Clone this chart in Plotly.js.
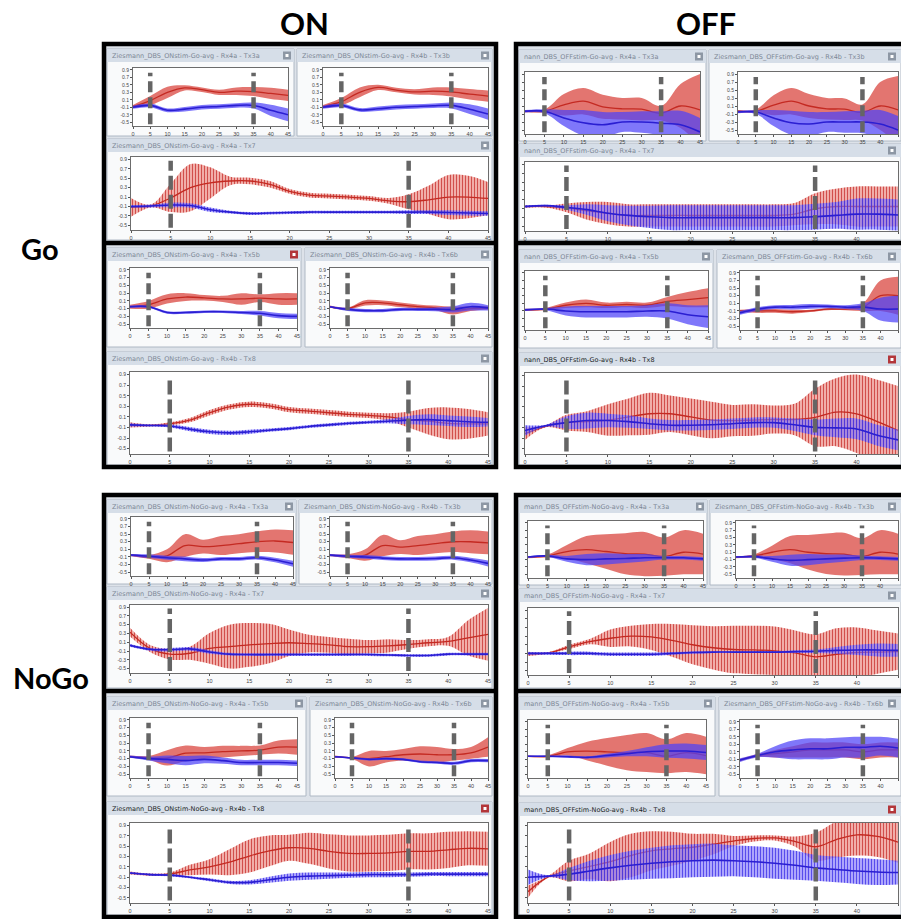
<!DOCTYPE html>
<html><head><meta charset="utf-8">
<script src="https://cdn.plot.ly/plotly-3.0.1.min.js"></script>
<style>html,body{margin:0;padding:0;background:#fff;}#chart{width:901px;height:919px;}</style>
</head><body><div id="chart"></div>
<script>
// ---------- DATA ----------
const xSmall = [0,5,10,15,20,25,30,35,40,45];
const xWide = [0,2.5,5,7.5,10,12.5,15,17.5,20,22.5,25,27.5,30,32.5,35,37.5,40,42.5,45];
const cueTimes = [5, 35];
const xTickVals = [0,5,10,15,20,25,30,35,40,45];
const xTickText = ['0','5','10','15','20','25','30','35','40','45'];
const yTickVals = [-0.5,-0.3,-0.1,0.1,0.3,0.5,0.7,0.9];
const yTickText = ['-0.5','-0.3','-0.1','0.1','0.3','0.5','0.7','0.9'];
const columnLabels = ['ON','OFF'];
const rowLabels = ['Go','NoGo'];

// Go / ON
const goOnTx3aRedMean = [-0.08,0.08,0.3,0.42,0.37,0.3,0.33,0.32,0.27,0.22];
const goOnTx3aRedSd = [0.04,0.12,0.15,0.07,0.06,0.07,0.1,0.12,0.15,0.15];
const goOnTx3aBlueMean = [-0.1,-0.05,-0.18,-0.15,-0.1,-0.08,-0.05,-0.05,-0.18,-0.3];
const goOnTx3aBlueSd = [0.04,0.05,0.05,0.06,0.06,0.06,0.06,0.08,0.15,0.17];
const goOnTx3bRedMean = [-0.08,0.05,0.3,0.43,0.36,0.31,0.33,0.31,0.25,0.2];
const goOnTx3bRedSd = [0.04,0.1,0.13,0.07,0.06,0.07,0.1,0.12,0.14,0.15];
const goOnTx3bBlueMean = [-0.1,-0.05,-0.17,-0.14,-0.1,-0.08,-0.06,-0.05,-0.15,-0.28];
const goOnTx3bBlueSd = [0.04,0.05,0.05,0.06,0.06,0.06,0.06,0.08,0.13,0.15];
const goOnTx7RedMean = [-0.12,-0.09,0.08,0.3,0.4,0.44,0.44,0.37,0.22,0.14,0.12,0.1,0.07,0.02,0.0,0.04,0.1,0.1,0.07];
const goOnTx7RedSd = [0.2,0.03,0.3,0.5,0.33,0.09,0.07,0.07,0.05,0.05,0.05,0.05,0.05,0.06,0.16,0.3,0.47,0.45,0.35];
const goOnTx7BlueMean = [-0.1,-0.09,-0.07,-0.08,-0.17,-0.22,-0.25,-0.24,-0.23,-0.22,-0.22,-0.22,-0.22,-0.22,-0.22,-0.22,-0.23,-0.24,-0.25];
const goOnTx7BlueSd = [0.03,0.03,0.05,0.05,0.05,0.03,0.03,0.03,0.03,0.03,0.03,0.03,0.03,0.03,0.04,0.04,0.05,0.05,0.05];
const goOnTx5bRedMean = [-0.05,0.0,0.15,0.2,0.18,0.15,0.15,0.17,0.15,0.15];
const goOnTx5bRedSd = [0.05,0.1,0.12,0.1,0.07,0.08,0.15,0.1,0.15,0.15];
const goOnTx5bBlueMean = [-0.05,-0.05,-0.2,-0.2,-0.18,-0.18,-0.2,-0.22,-0.28,-0.3];
const goOnTx5bBlueSd = [0.03,0.03,0.03,0.03,0.03,0.03,0.04,0.06,0.07,0.07];
const goOnTx6bRedMean = [-0.05,-0.1,0.05,0.05,0.0,-0.05,-0.08,-0.15,-0.1,-0.08];
const goOnTx6bRedSd = [0.03,0.03,0.07,0.06,0.06,0.06,0.06,0.1,0.06,0.04];
const goOnTx6bBlueMean = [-0.05,-0.12,-0.15,-0.15,-0.12,-0.12,-0.12,-0.12,-0.05,-0.08];
const goOnTx6bBlueSd = [0.02,0.04,0.04,0.04,0.04,0.04,0.05,0.08,0.1,0.07];
const goOnTx8RedMean = [-0.05,-0.06,-0.03,0.04,0.18,0.29,0.34,0.31,0.24,0.21,0.18,0.15,0.13,0.1,0.05,0.02,-0.02,-0.03,-0.03];
const goOnTx8RedSd = [0.05,0.02,0.03,0.04,0.05,0.05,0.05,0.05,0.05,0.05,0.05,0.05,0.05,0.07,0.15,0.25,0.3,0.28,0.22];
const goOnTx8BlueMean = [-0.05,-0.06,-0.07,-0.13,-0.18,-0.2,-0.18,-0.15,-0.12,-0.08,-0.05,-0.02,0.0,0.02,0.04,0.05,0.03,0.01,0.0];
const goOnTx8BlueSd = [0.03,0.02,0.03,0.04,0.04,0.04,0.04,0.03,0.03,0.03,0.03,0.03,0.03,0.04,0.08,0.1,0.1,0.1,0.08];

// Go / OFF
const goOffTx3aRedMean = [-0.03,-0.03,0.13,0.22,0.08,0.03,0.02,-0.08,0.1,0.0];
const goOffTx3aRedSd = [0.03,0.04,0.27,0.33,0.3,0.27,0.28,0.18,0.55,0.9];
const goOffTx3aBlueMean = [-0.03,-0.03,-0.2,-0.32,-0.37,-0.3,-0.3,-0.33,-0.37,-0.55];
const goOffTx3aBlueSd = [0.03,0.05,0.2,0.32,0.32,0.25,0.27,0.3,0.35,0.35];
const goOffTx3bRedMean = [-0.03,-0.03,0.12,0.22,0.1,0.03,0.02,-0.06,0.1,0.0];
const goOffTx3bRedSd = [0.03,0.04,0.25,0.33,0.3,0.27,0.27,0.2,0.6,0.85];
const goOffTx3bBlueMean = [-0.05,-0.05,-0.2,-0.32,-0.35,-0.3,-0.3,-0.3,-0.35,-0.5];
const goOffTx3bBlueSd = [0.03,0.05,0.2,0.3,0.3,0.25,0.27,0.28,0.35,0.35];
const goOffTx7RedMean = [-0.05,-0.05,-0.08,-0.15,-0.2,-0.25,-0.25,-0.25,-0.25,-0.25,-0.25,-0.25,-0.25,-0.22,-0.1,-0.05,-0.05,-0.05,-0.05];
const goOffTx7RedSd = [0.03,0.02,0.1,0.2,0.25,0.25,0.25,0.25,0.25,0.25,0.25,0.25,0.25,0.25,0.35,0.4,0.45,0.45,0.45];
const goOffTx7BlueMean = [-0.05,-0.03,-0.07,-0.12,-0.2,-0.25,-0.28,-0.3,-0.3,-0.3,-0.3,-0.3,-0.3,-0.3,-0.28,-0.25,-0.22,-0.22,-0.24];
const goOffTx7BlueSd = [0.03,0.02,0.05,0.12,0.18,0.22,0.25,0.28,0.28,0.28,0.28,0.28,0.28,0.28,0.29,0.3,0.35,0.35,0.35];
const goOffTx5bRedMean = [-0.07,-0.05,0.05,0.1,0.05,0.07,0.05,0.15,0.2,0.25];
const goOffTx5bRedSd = [0.03,0.03,0.07,0.1,0.07,0.07,0.07,0.12,0.2,0.25];
const goOffTx5bBlueMean = [-0.07,-0.05,-0.1,-0.12,-0.12,-0.12,-0.1,-0.1,-0.2,-0.25];
const goOffTx5bBlueSd = [0.03,0.03,0.12,0.15,0.15,0.15,0.15,0.2,0.25,0.3];
const goOffTx6bRedMean = [-0.1,-0.1,-0.1,-0.12,-0.1,-0.05,-0.05,0.0,0.3,0.3];
const goOffTx6bRedSd = [0.03,0.05,0.05,0.05,0.03,0.03,0.03,0.1,0.4,0.5];
const goOffTx6bBlueMean = [-0.15,-0.05,0.0,0.0,0.02,0.02,0.0,0.0,-0.05,-0.05];
const goOffTx6bBlueSd = [0.05,0.05,0.05,0.06,0.06,0.05,0.05,0.1,0.3,0.35];
const goOffTx8RedMean = [-0.21,-0.07,0.0,0.02,0.05,0.11,0.17,0.17,0.11,0.05,0.04,0.05,0.06,0.06,0.1,0.2,0.17,0.02,-0.15];
const goOffTx8RedSd = [0.12,0.02,0.15,0.2,0.3,0.35,0.4,0.35,0.35,0.35,0.3,0.3,0.27,0.3,0.55,0.65,0.75,0.8,0.85];
const goOffTx8BlueMean = [-0.15,-0.06,0.0,0.04,0.04,0.02,-0.02,-0.05,-0.05,-0.04,-0.02,0.0,0.0,-0.04,-0.09,-0.1,-0.12,-0.24,-0.33];
const goOffTx8BlueSd = [0.1,0.02,0.12,0.15,0.13,0.12,0.1,0.1,0.1,0.1,0.1,0.1,0.1,0.12,0.15,0.18,0.2,0.2,0.2];

// NoGo / ON
const noGoOnTx3aRedMean = [-0.05,-0.1,-0.07,0.2,0.17,0.2,0.25,0.3,0.32,0.28];
const noGoOnTx3aRedSd = [0.03,0.05,0.17,0.3,0.18,0.25,0.25,0.27,0.3,0.32];
const noGoOnTx3aBlueMean = [-0.05,-0.08,-0.12,-0.15,-0.18,-0.15,-0.15,-0.12,-0.18,-0.28];
const noGoOnTx3aBlueSd = [0.03,0.05,0.05,0.06,0.05,0.05,0.05,0.05,0.06,0.08];
const noGoOnTx3bRedMean = [-0.05,-0.08,-0.05,0.2,0.16,0.2,0.25,0.3,0.3,0.27];
const noGoOnTx3bRedSd = [0.03,0.05,0.15,0.28,0.18,0.25,0.25,0.27,0.3,0.3];
const noGoOnTx3bBlueMean = [-0.05,-0.08,-0.1,-0.13,-0.15,-0.15,-0.14,-0.12,-0.18,-0.27];
const noGoOnTx3bBlueSd = [0.03,0.04,0.05,0.05,0.05,0.05,0.05,0.05,0.06,0.08];
const noGoOnTx7RedMean = [0.33,-0.04,-0.17,-0.15,-0.04,0.0,0.04,0.07,0.09,0.07,0.04,0.0,0.0,0.02,0.05,0.09,0.12,0.2,0.28];
const noGoOnTx7RedSd = [0.1,0.08,0.12,0.15,0.35,0.5,0.5,0.45,0.3,0.2,0.18,0.18,0.15,0.15,0.1,0.08,0.1,0.4,0.6];
const noGoOnTx7BlueMean = [0.03,-0.06,-0.07,-0.05,-0.12,-0.17,-0.18,-0.18,-0.18,-0.18,-0.18,-0.18,-0.18,-0.19,-0.2,-0.2,-0.17,-0.17,-0.17];
const noGoOnTx7BlueSd = [0.03,0.03,0.04,0.04,0.04,0.03,0.03,0.03,0.03,0.03,0.03,0.03,0.03,0.03,0.03,0.03,0.03,0.03,0.03];
const noGoOnTx5bRedMean = [-0.05,-0.08,-0.08,0.04,0.05,0.08,0.1,0.12,0.2,0.2];
const noGoOnTx5bRedSd = [0.03,0.05,0.2,0.2,0.15,0.15,0.13,0.12,0.17,0.2];
const noGoOnTx5bBlueMean = [-0.05,-0.1,-0.12,-0.15,-0.12,-0.15,-0.2,-0.2,-0.2,-0.22];
const noGoOnTx5bBlueSd = [0.03,0.05,0.1,0.12,0.1,0.08,0.07,0.07,0.07,0.07];
const noGoOnTx6bRedMean = [-0.05,-0.08,-0.1,-0.05,0.0,0.02,0.0,0.0,0.05,0.2];
const noGoOnTx6bRedSd = [0.03,0.03,0.2,0.15,0.15,0.2,0.2,0.15,0.15,0.25];
const noGoOnTx6bBlueMean = [-0.05,-0.08,-0.12,-0.1,-0.12,-0.18,-0.2,-0.22,-0.15,-0.15];
const noGoOnTx6bBlueSd = [0.02,0.02,0.03,0.03,0.03,0.03,0.03,0.04,0.04,0.04];
const noGoOnTx8RedMean = [-0.02,-0.05,-0.04,0.04,0.1,0.19,0.31,0.41,0.47,0.46,0.4,0.36,0.36,0.37,0.4,0.4,0.43,0.46,0.45];
const noGoOnTx8RedSd = [0.03,0.02,0.03,0.1,0.15,0.25,0.32,0.3,0.25,0.3,0.33,0.35,0.35,0.35,0.35,0.35,0.35,0.33,0.33];
const noGoOnTx8BlueMean = [-0.02,-0.05,-0.06,-0.1,-0.15,-0.2,-0.2,-0.15,-0.1,-0.08,-0.07,-0.06,-0.05,-0.05,-0.05,-0.04,-0.04,-0.04,-0.04];
const noGoOnTx8BlueSd = [0.02,0.02,0.02,0.02,0.03,0.03,0.04,0.06,0.07,0.07,0.06,0.05,0.05,0.05,0.04,0.04,0.04,0.04,0.04];

// NoGo / OFF
const noGoOffTx3aRedMean = [-0.03,0.0,0.12,0.17,0.12,0.06,0.05,-0.02,0.1,0.05];
const noGoOffTx3aRedSd = [0.03,0.04,0.18,0.37,0.47,0.56,0.6,0.52,0.6,0.55];
const noGoOffTx3aBlueMean = [-0.03,0.0,-0.08,-0.1,-0.08,-0.07,-0.05,-0.05,-0.05,-0.08];
const noGoOffTx3aBlueSd = [0.02,0.03,0.08,0.15,0.15,0.12,0.1,0.05,0.05,0.05];
const noGoOffTx3bRedMean = [-0.03,0.0,0.1,0.17,0.1,0.06,0.05,-0.02,0.1,0.05];
const noGoOffTx3bRedSd = [0.03,0.04,0.18,0.37,0.47,0.55,0.58,0.5,0.6,0.55];
const noGoOffTx3bBlueMean = [-0.03,-0.02,-0.08,-0.12,-0.1,-0.08,-0.06,-0.05,-0.06,-0.08];
const noGoOffTx3bBlueSd = [0.02,0.03,0.08,0.15,0.15,0.12,0.1,0.06,0.05,0.05];
const noGoOffTx7RedMean = [-0.11,-0.09,0.05,0.17,0.25,0.3,0.28,0.2,0.1,0.03,-0.01,-0.02,-0.04,-0.09,-0.18,-0.12,-0.08,-0.07,-0.06];
const noGoOffTx7RedSd = [0.05,0.02,0.05,0.06,0.2,0.24,0.3,0.38,0.45,0.5,0.55,0.56,0.56,0.52,0.52,0.6,0.58,0.5,0.42];
const noGoOffTx7BlueMean = [-0.1,-0.1,-0.1,-0.1,-0.12,-0.12,-0.12,-0.1,-0.08,-0.07,-0.07,-0.07,-0.07,-0.06,-0.05,-0.03,-0.02,-0.02,-0.03];
const noGoOffTx7BlueSd = [0.03,0.03,0.04,0.04,0.04,0.04,0.04,0.03,0.03,0.02,0.02,0.02,0.02,0.03,0.04,0.08,0.12,0.15,0.15];
const noGoOffTx5bRedMean = [-0.02,-0.02,0.1,0.12,0.1,0.08,0.08,-0.02,0.08,0.0];
const noGoOffTx5bRedSd = [0.02,0.03,0.1,0.25,0.37,0.47,0.52,0.45,0.52,0.5];
const noGoOffTx5bBlueMean = [-0.02,-0.02,-0.03,-0.05,0.0,0.05,0.1,0.12,0.12,0.08];
const noGoOffTx5bBlueSd = [0.02,0.02,0.03,0.03,0.05,0.07,0.12,0.18,0.2,0.2];
const noGoOffTx6bRedMean = [-0.12,0.0,0.05,0.1,0.15,0.15,0.15,0.1,0.15,0.15];
const noGoOffTx6bRedSd = [0.03,0.04,0.1,0.15,0.2,0.2,0.2,0.2,0.2,0.2];
const noGoOffTx6bBlueMean = [-0.12,0.0,0.1,0.15,0.18,0.18,0.22,0.22,0.25,0.2];
const noGoOffTx6bBlueSd = [0.05,0.05,0.15,0.25,0.28,0.28,0.27,0.28,0.25,0.25];
const noGoOffTx8RedMean = [-0.38,-0.09,0.02,0.11,0.2,0.32,0.41,0.45,0.48,0.54,0.6,0.65,0.66,0.59,0.49,0.63,0.72,0.69,0.58];
const noGoOffTx8RedSd = [0.12,0.02,0.2,0.25,0.38,0.42,0.38,0.33,0.26,0.2,0.1,0.06,0.05,0.1,0.27,0.35,0.4,0.4,0.4];
const noGoOffTx8BlueMean = [-0.1,-0.08,-0.04,0.02,0.08,0.13,0.17,0.2,0.22,0.23,0.22,0.2,0.17,0.13,0.08,0.05,0.02,0.0,-0.01];
const noGoOffTx8BlueSd = [0.15,0.02,0.12,0.2,0.25,0.28,0.3,0.32,0.32,0.32,0.3,0.3,0.3,0.28,0.25,0.25,0.25,0.25,0.23];

// ---------- PANELS ----------
const panels = [
 {q:'goOn', s:'A', t:'Ziesmann_DBS_ONstim-Go-avg - Rx4a - Tx3a', x:xSmall, rm:goOnTx3aRedMean, rs:goOnTx3aRedSd, bm:goOnTx3aBlueMean, bs:goOnTx3aBlueSd},
 {q:'goOn', s:'B', t:'Ziesmann_DBS_ONstim-Go-avg - Rx4b - Tx3b', x:xSmall, rm:goOnTx3bRedMean, rs:goOnTx3bRedSd, bm:goOnTx3bBlueMean, bs:goOnTx3bBlueSd},
 {q:'goOn', s:'W1', t:'Ziesmann_DBS_ONstim-Go-avg - Rx4a - Tx7', x:xWide, rm:goOnTx7RedMean, rs:goOnTx7RedSd, bm:goOnTx7BlueMean, bs:goOnTx7BlueSd},
 {q:'goOn', s:'C', t:'Ziesmann_DBS_ONstim-Go-avg - Rx4a - Tx5b', x:xSmall, rm:goOnTx5bRedMean, rs:goOnTx5bRedSd, bm:goOnTx5bBlueMean, bs:goOnTx5bBlueSd, red:true},
 {q:'goOn', s:'D', t:'Ziesmann_DBS_ONstim-Go-avg - Rx4b - Tx6b', x:xSmall, rm:goOnTx6bRedMean, rs:goOnTx6bRedSd, bm:goOnTx6bBlueMean, bs:goOnTx6bBlueSd},
 {q:'goOn', s:'W2', t:'Ziesmann_DBS_ONstim-Go-avg - Rx4b - Tx8', x:xWide, rm:goOnTx8RedMean, rs:goOnTx8RedSd, bm:goOnTx8BlueMean, bs:goOnTx8BlueSd},
 {q:'goOff', s:'A', t:'nann_DBS_OFFstim-Go-avg - Rx4a - Tx3a', x:xSmall, rm:goOffTx3aRedMean, rs:goOffTx3aRedSd, bm:goOffTx3aBlueMean, bs:goOffTx3aBlueSd},
 {q:'goOff', s:'B', t:'Ziesmann_DBS_OFFstim-Go-avg - Rx4b - Tx3b', x:xSmall, rm:goOffTx3bRedMean, rs:goOffTx3bRedSd, bm:goOffTx3bBlueMean, bs:goOffTx3bBlueSd},
 {q:'goOff', s:'W1', t:'nann_DBS_OFFstim-Go-avg - Rx4a - Tx7', x:xWide, rm:goOffTx7RedMean, rs:goOffTx7RedSd, bm:goOffTx7BlueMean, bs:goOffTx7BlueSd},
 {q:'goOff', s:'C', t:'nann_DBS_OFFstim-Go-avg - Rx4a - Tx5b', x:xSmall, rm:goOffTx5bRedMean, rs:goOffTx5bRedSd, bm:goOffTx5bBlueMean, bs:goOffTx5bBlueSd},
 {q:'goOff', s:'D', t:'Ziesmann_DBS_OFFstim-Go-avg - Rx4b - Tx6b', x:xSmall, rm:goOffTx6bRedMean, rs:goOffTx6bRedSd, bm:goOffTx6bBlueMean, bs:goOffTx6bBlueSd},
 {q:'goOff', s:'W2', t:'nann_DBS_OFFstim-Go-avg - Rx4b - Tx8', x:xWide, rm:goOffTx8RedMean, rs:goOffTx8RedSd, bm:goOffTx8BlueMean, bs:goOffTx8BlueSd, red:true, active:true},
 {q:'noGoOn', s:'A', t:'Ziesmann_DBS_ONstim-NoGo-avg - Rx4a - Tx3a', x:xSmall, rm:noGoOnTx3aRedMean, rs:noGoOnTx3aRedSd, bm:noGoOnTx3aBlueMean, bs:noGoOnTx3aBlueSd},
 {q:'noGoOn', s:'B', t:'Ziesmann_DBS_ONstim-NoGo-avg - Rx4b - Tx3b', x:xSmall, rm:noGoOnTx3bRedMean, rs:noGoOnTx3bRedSd, bm:noGoOnTx3bBlueMean, bs:noGoOnTx3bBlueSd},
 {q:'noGoOn', s:'W1', t:'Ziesmann_DBS_ONstim-NoGo-avg - Rx4a - Tx7', x:xWide, rm:noGoOnTx7RedMean, rs:noGoOnTx7RedSd, bm:noGoOnTx7BlueMean, bs:noGoOnTx7BlueSd},
 {q:'noGoOn', s:'C', t:'Ziesmann_DBS_ONstim-NoGo-avg - Rx4a - Tx5b', x:xSmall, rm:noGoOnTx5bRedMean, rs:noGoOnTx5bRedSd, bm:noGoOnTx5bBlueMean, bs:noGoOnTx5bBlueSd},
 {q:'noGoOn', s:'D', t:'Ziesmann_DBS_ONstim-NoGo-avg - Rx4b - Tx6b', x:xSmall, rm:noGoOnTx6bRedMean, rs:noGoOnTx6bRedSd, bm:noGoOnTx6bBlueMean, bs:noGoOnTx6bBlueSd},
 {q:'noGoOn', s:'W2', t:'Ziesmann_DBS_ONstim-NoGo-avg - Rx4b - Tx8', x:xWide, rm:noGoOnTx8RedMean, rs:noGoOnTx8RedSd, bm:noGoOnTx8BlueMean, bs:noGoOnTx8BlueSd, red:true, active:true},
 {q:'noGoOff', s:'A', t:'mann_DBS_OFFstim-NoGo-avg - Rx4a - Tx3a', x:xSmall, rm:noGoOffTx3aRedMean, rs:noGoOffTx3aRedSd, bm:noGoOffTx3aBlueMean, bs:noGoOffTx3aBlueSd},
 {q:'noGoOff', s:'B', t:'Ziesmann_DBS_OFFstim-NoGo-avg - Rx4b - Tx3b', x:xSmall, rm:noGoOffTx3bRedMean, rs:noGoOffTx3bRedSd, bm:noGoOffTx3bBlueMean, bs:noGoOffTx3bBlueSd},
 {q:'noGoOff', s:'W1', t:'mann_DBS_OFFstim-NoGo-avg - Rx4a - Tx7', x:xWide, rm:noGoOffTx7RedMean, rs:noGoOffTx7RedSd, bm:noGoOffTx7BlueMean, bs:noGoOffTx7BlueSd},
 {q:'noGoOff', s:'C', t:'mann_DBS_OFFstim-NoGo-avg - Rx4a - Tx5b', x:xSmall, rm:noGoOffTx5bRedMean, rs:noGoOffTx5bRedSd, bm:noGoOffTx5bBlueMean, bs:noGoOffTx5bBlueSd},
 {q:'noGoOff', s:'D', t:'Ziesmann_DBS_OFFstim-NoGo-avg - Rx4b - Tx6b', x:xSmall, rm:noGoOffTx6bRedMean, rs:noGoOffTx6bRedSd, bm:noGoOffTx6bBlueMean, bs:noGoOffTx6bBlueSd},
 {q:'noGoOff', s:'W2', t:'mann_DBS_OFFstim-NoGo-avg - Rx4b - Tx8', x:xWide, rm:noGoOffTx8RedMean, rs:noGoOffTx8RedSd, bm:noGoOffTx8BlueMean, bs:noGoOffTx8BlueSd, red:true, active:true}
];

// ---------- LAYOUT GEOMETRY (pixels) ----------
const geom = {
 goOn: {box:[104,44,496,467], sep:243, cut:false, win:{A:[107,49,294,136],B:[297,49,492,136],W1:[107,139,492,240],C:[107,248,301,347],D:[305,248,492,347],W2:[107,352,492,465]},
   plot:{A:[133,68,288,126],B:[323,68,488,126],W1:[131,157,488,230],C:[130,268,297,328],D:[330,268,488,328],W2:[130,372,488,454]}},
 goOff: {box:[516,44,905,467], sep:243, cut:true, win:{A:[519,50,706,141],B:[709,50,901,141],W1:[519,144,901,240],C:[519,250,713,348],D:[717,250,901,348],W2:[519,353,901,465]},
   plot:{A:[525,72,700,134],B:[738,72,898,134],W1:[525,162,898,231],C:[525,271,708,330],D:[740,271,898,330],W2:[525,373,898,454]}},
 noGoOn: {box:[104,495,496,917], sep:691, cut:false, win:{A:[107,500,296,584],B:[299,500,492,584],W1:[107,587,492,688],C:[107,697,306,796],D:[310,697,492,796],W2:[107,802,492,915]},
   plot:{A:[131,517,293,576],B:[330,517,488,576],W1:[130,605,488,673],C:[130,718,297,778],D:[335,718,488,778],W2:[130,823,488,903]}},
 noGoOff: {box:[516,495,905,917], sep:691, cut:true, win:{A:[519,500,707,585],B:[710,500,901,585],W1:[519,589,901,688],C:[519,697,715,796],D:[719,697,901,796],W2:[519,803,901,915]},
   plot:{A:[528,521,703,578],B:[736,521,898,578],W1:[528,608,898,675],C:[528,720,706,778],D:[740,720,898,778],W2:[528,823,898,903]}}
};
const W = 901, H = 919;
const fx = p => p / W;
const fy = p => 1 - p / H;

const traces = [];
const shapes = [];
const annotations = [];
const layout = {
  width: W, height: H, margin:{l:0,r:0,t:0,b:0},
  paper_bgcolor:'#ffffff', plot_bgcolor:'rgba(0,0,0,0)', showlegend:false,
  font:{family:'Liberation Sans, Arial, sans-serif', color:'#333'}
};

// quadrant backgrounds
Object.keys(geom).forEach(k => {
  const g = geom[k];
  shapes.push({type:'rect', xref:'paper', yref:'paper', layer:'below',
    x0:fx(g.box[0]), x1:fx(g.box[2]), y0:fy(g.box[3]), y1:fy(g.box[1]),
    fillcolor:'#dde2e9', line:{width:0}});
});

const add = (a,b,sign) => a.map((v,i)=> v + sign*b[i]);

panels.forEach((p, idx) => {
  const n = idx + 1;
  const xa = 'x' + (n===1?'':n), ya = 'y' + (n===1?'':n);
  const g = geom[p.q];
  const pr = g.plot[p.s], wr = g.win[p.s];
  const wide = p.s === 'W1' || p.s === 'W2';
  const leftCol = p.s !== 'B' && p.s !== 'D';
  shapes.push({type:'rect', xref:'paper', yref:'paper', layer:'below',
    x0:fx(wr[0]), x1:fx(wr[2]), y0:fy(wr[3]), y1:fy(wr[1]),
    fillcolor:'#f9fafb', line:{color:'#aeb8c4', width:1}});
  shapes.push({type:'rect', xref:'paper', yref:'paper', layer:'below',
    x0:fx(wr[0]), x1:fx(wr[2]), y0:fy(wr[1]+13), y1:fy(wr[1]),
    fillcolor:'#d6dee8', line:{width:0}});
  const bx = Math.min(wr[2], 899) - 11;
  shapes.push({type:'rect', xref:'paper', yref:'paper', layer:'below',
    x0:fx(bx), x1:fx(bx+8), y0:fy(wr[1]+10.5), y1:fy(wr[1]+2.5),
    fillcolor: p.red ? '#b3363a' : '#8d97a4', line:{width:0}});
  shapes.push({type:'rect', xref:'paper', yref:'paper', layer:'below',
    x0:fx(bx+2.5), x1:fx(bx+5.5), y0:fy(wr[1]+8), y1:fy(wr[1]+5),
    fillcolor:'#ffffff', line:{width:0}});
  shapes.push({type:'rect', xref:'paper', yref:'paper', layer:'below',
    x0:fx(pr[0]), x1:fx(pr[2]), y0:fy(pr[3]), y1:fy(pr[1]),
    fillcolor:'#ffffff', line:{width:0}});
  annotations.push({xref:'paper', yref:'paper', x:fx(wr[0]+3), y:fy(wr[1]+6.5), xanchor:'left', yanchor:'middle',
    text:p.t, showarrow:false,
    font:{size:6.5, color: p.active ? '#1b1f26' : '#7d8896', family:'DejaVu Sans, sans-serif'}});

  layout['xaxis'+(n===1?'':n)] = {
    domain:[fx(pr[0]), fx(pr[2])], anchor:ya, range:[0,45],
    tickvals:xTickVals, ticktext:xTickText, ticks:'outside', ticklen:2, tickcolor:'#555',
    tickfont:{size:5.5, color:'#444'}, showgrid:false, zeroline:false,
    showline:true, mirror:true, linecolor:'#6c6c6c', linewidth:1, fixedrange:true
  };
  layout['yaxis'+(n===1?'':n)] = {
    domain:[fy(pr[3]), fy(pr[1])], anchor:xa, range:[-0.6,0.95],
    tickvals:yTickVals, ticktext:yTickText, ticks:'outside', ticklen:2, tickcolor:'#555',
    tickfont:{size:5, color:'#444'}, showgrid:false, zeroline:false,
    showticklabels: !(g.cut && leftCol),
    showline:true, mirror:true, linecolor:'#6c6c6c', linewidth:1, fixedrange:true
  };

  const redFill = {fill:'tonexty', fillcolor:'rgba(214,52,44,0.68)'};
  const blueFill = {fill:'tonexty', fillcolor:'rgba(78,66,248,0.72)'};
  if (wide) {
    redFill.fillpattern = {shape:'|', fgcolor:'rgba(196,40,36,0.7)', bgcolor:'rgba(232,120,112,0.6)', size:3, solidity:0.35};
    blueFill.fillpattern = {shape:'|', fgcolor:'rgba(50,36,230,0.7)', bgcolor:'rgba(122,112,250,0.62)', size:3, solidity:0.35};
  }
  const common = {xaxis:xa, yaxis:ya, x:p.x, mode:'lines', hoverinfo:'skip', showlegend:false};
  traces.push(Object.assign({}, common, {y:add(p.rm,p.rs,1), line:{width:0, shape:'spline'}}));
  traces.push(Object.assign({}, common, {y:add(p.rm,p.rs,-1), line:{width:0, shape:'spline'}}, redFill));
  traces.push(Object.assign({}, common, {y:p.rm, line:{width:1.3, color:'#c42a22', shape:'spline'}}));
  traces.push(Object.assign({}, common, {y:add(p.bm,p.bs,1), line:{width:0, shape:'spline'}}));
  traces.push(Object.assign({}, common, {y:add(p.bm,p.bs,-1), line:{width:0, shape:'spline'}}, blueFill));
  traces.push(Object.assign({}, common, {y:p.bm, line:{width:1.6, color:'#2a1ed2', shape:'spline'}}));

  cueTimes.forEach(t => {
    shapes.push({type:'line', xref:xa, yref:ya+' domain', layer:'above',
      x0:t, x1:t, y0:0.03, y1:wide?0.95:0.92,
      line:{color:'#656565', width:4.5, dash: wide ? '14px,5px' : '11px,5px'}});
  });
});

Object.keys(geom).forEach(k => {
  const g = geom[k];
  shapes.push({type:'rect', xref:'paper', yref:'paper', layer:'above',
    x0:fx(g.box[0]), x1:fx(g.box[2]), y0:fy(g.box[3]), y1:fy(g.box[1]),
    fillcolor:'rgba(0,0,0,0)', line:{color:'#000', width:4.5}});
  shapes.push({type:'line', xref:'paper', yref:'paper', layer:'above',
    x0:fx(g.box[0]), x1:fx(g.box[2]), y0:fy(g.sep), y1:fy(g.sep),
    line:{color:'#000', width:4.5}});
});

const bigFont = {family:'Lato, Open Sans, sans-serif', size:31, color:'#000', weight:'bold'};
annotations.push({xref:'paper', yref:'paper', x:fx(304), y:fy(23), text:'<b>'+columnLabels[0]+'</b>', showarrow:false, xanchor:'center', yanchor:'middle', font:bigFont});
annotations.push({xref:'paper', yref:'paper', x:fx(706), y:fy(23), text:'<b>'+columnLabels[1]+'</b>', showarrow:false, xanchor:'center', yanchor:'middle', font:bigFont});
annotations.push({xref:'paper', yref:'paper', x:fx(40), y:fy(248), text:'<b>'+rowLabels[0]+'</b>', showarrow:false, xanchor:'center', yanchor:'middle', font:Object.assign({}, bigFont, {size:29})});
annotations.push({xref:'paper', yref:'paper', x:fx(51), y:fy(677), text:'<b>'+rowLabels[1]+'</b>', showarrow:false, xanchor:'center', yanchor:'middle', font:Object.assign({}, bigFont, {size:29})});

layout.shapes = shapes;
layout.annotations = annotations;
Plotly.newPlot('chart', traces, layout, {staticPlot:true, displayModeBar:false});
</script>
</body></html>
